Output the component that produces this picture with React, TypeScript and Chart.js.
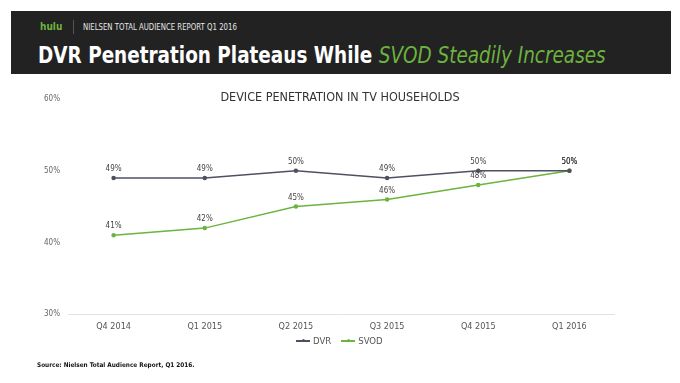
import React, { useEffect, useRef } from "react";
import { Chart, registerables } from "chart.js";

Chart.register(...registerables);

const categories = ["Q4 2014", "Q1 2015", "Q2 2015", "Q3 2015", "Q4 2015", "Q1 2016"];
const dvrValues = [49, 49, 50, 49, 50, 50];
const svodValues = [41, 42, 45, 46, 48, 50];
const yTicks = [30, 40, 50, 60];
const seriesNames = ["DVR", "SVOD"];

const FONT = '"Liberation Sans Narrow", "DejaVu Sans Condensed", "Roboto Condensed", sans-serif';
const DVR_COLOR = "#4d5160";
const SVOD_COLOR = "#6cb33f";

const dataLabelPlugin = {
  id: "dataLabels",
  afterDatasetsDraw(chart: any) {
    const ctx = chart.ctx;
    ctx.save();
    ctx.font = `8px ${FONT}`;
    ctx.fillStyle = "#444";
    ctx.textAlign = "center";
    ctx.textBaseline = "bottom";
    chart.data.datasets.forEach((ds: any, i: number) => {
      const meta = chart.getDatasetMeta(i);
      meta.data.forEach((pt: any, j: number) => {
        ctx.fillText(ds.data[j] + "%", pt.x, pt.y - 5);
      });
    });
    ctx.restore();
  },
};

function LegendItem({ color, label }: { color: string; label: string }) {
  return (
    <span style={{ display: "inline-flex", alignItems: "center", marginRight: 10 }}>
      <span style={{ position: "relative", display: "inline-block", width: 14, height: 1.5, background: color, marginRight: 3 }}>
        <span style={{ position: "absolute", left: 5.5, top: -1.25, width: 3, height: 3, borderRadius: 2, background: color }} />
      </span>
      <span style={{ color: "#555", fontSize: 9.5 }}>{label}</span>
    </span>
  );
}

export default function App() {
  const ref = useRef<HTMLCanvasElement>(null);
  useEffect(() => {
    if (!ref.current) return;
    const chart = new Chart(ref.current, {
      type: "line",
      data: {
        labels: categories,
        datasets: [
          {
            label: seriesNames[0],
            data: dvrValues,
            borderColor: DVR_COLOR,
            backgroundColor: DVR_COLOR,
            borderWidth: 1.5,
            pointRadius: 1.5,
            pointHoverRadius: 1.5,
            tension: 0,
          },
          {
            label: seriesNames[1],
            data: svodValues,
            borderColor: SVOD_COLOR,
            backgroundColor: SVOD_COLOR,
            borderWidth: 1.5,
            pointRadius: 1.5,
            pointHoverRadius: 1.5,
            tension: 0,
          },
        ],
      },
      options: {
        animation: false,
        responsive: false,
        maintainAspectRatio: false,
        layout: { padding: { top: 99, right: 65, bottom: 44, left: 0 } },
        plugins: {
          title: { display: false },
          tooltip: { enabled: false },
          legend: { display: false },
        },
        scales: {
          x: {
            offset: true,
            grid: { display: false, drawTicks: false },
            border: { display: false },
            ticks: { color: "#555", padding: 7, font: { family: FONT, size: 9 } },
          },
          y: {
            min: 30,
            max: 60,
            afterFit: (s: any) => { s.width = 68; },
            afterBuildTicks: (s: any) => { s.ticks = yTicks.map((v) => ({ value: v })); },
            grid: {
              drawTicks: false,
              color: (c: any) => (c.tick && c.tick.value === 30 ? "#e2e2e2" : "rgba(0,0,0,0)"),
            },
            border: { display: false },
            ticks: {
              color: "#666",
              padding: 8,
              font: { family: FONT, size: 8 },
              callback: (v: any) => v + "%",
            },
          },
        },
      },
      plugins: [dataLabelPlugin],
    });
    return () => chart.destroy();
  }, []);

  return (
    <div style={{ position: "absolute", left: 0, top: 0, width: 680, height: 383, background: "#fff", overflow: "hidden", fontFamily: FONT }}>
      <canvas ref={ref} width={680} height={383} style={{ position: "absolute", left: 0, top: 0, width: 680, height: 383 }} />
      <div style={{ position: "absolute", left: 11, top: 11, width: 660, height: 63, background: "#222222" }}>
        <div style={{ position: "absolute", left: 29, top: 10, fontSize: 10, fontWeight: "bold", color: "#6cb33f", lineHeight: "12px" }}>hulu</div>
        <div style={{ position: "absolute", left: 62, top: 9, width: 1, height: 14, background: "#555" }} />
        <div style={{ position: "absolute", left: 72, top: 10, fontSize: 9, color: "#e6e6e6", lineHeight: "12px", whiteSpace: "nowrap", transform: "scaleX(0.86)", transformOrigin: "left center" }}>NIELSEN TOTAL AUDIENCE REPORT Q1 2016</div>
        <div style={{ position: "absolute", left: 27, top: 31, fontSize: 23, lineHeight: "26px", whiteSpace: "nowrap", transform: "scaleX(0.89)", transformOrigin: "left center" }}>
          <span style={{ color: "#fff", fontWeight: "bold" }}>DVR Penetration Plateaus While </span>
          <span style={{ color: "#6cb33f", fontStyle: "italic" }}>SVOD Steadily Increases</span>
        </div>
      </div>
      <div style={{ position: "absolute", left: 0, width: 680, top: 90, textAlign: "center", fontSize: 12.5, fontWeight: 500, color: "#333", lineHeight: "14px", whiteSpace: "nowrap" }}>DEVICE PENETRATION IN TV HOUSEHOLDS</div>
      <div style={{ position: "absolute", left: 296, top: 335, height: 12, display: "flex", alignItems: "center", lineHeight: "12px", whiteSpace: "nowrap" }}>
        <LegendItem color={DVR_COLOR} label={seriesNames[0]} />
        <LegendItem color={SVOD_COLOR} label={seriesNames[1]} />
      </div>
      <div style={{ position: "absolute", left: 37, top: 361, fontSize: 6.4, fontWeight: "bold", color: "#111", lineHeight: "9px", whiteSpace: "nowrap" }}>Source: Nielsen Total Audience Report, Q1 2016.</div>
    </div>
  );
}
